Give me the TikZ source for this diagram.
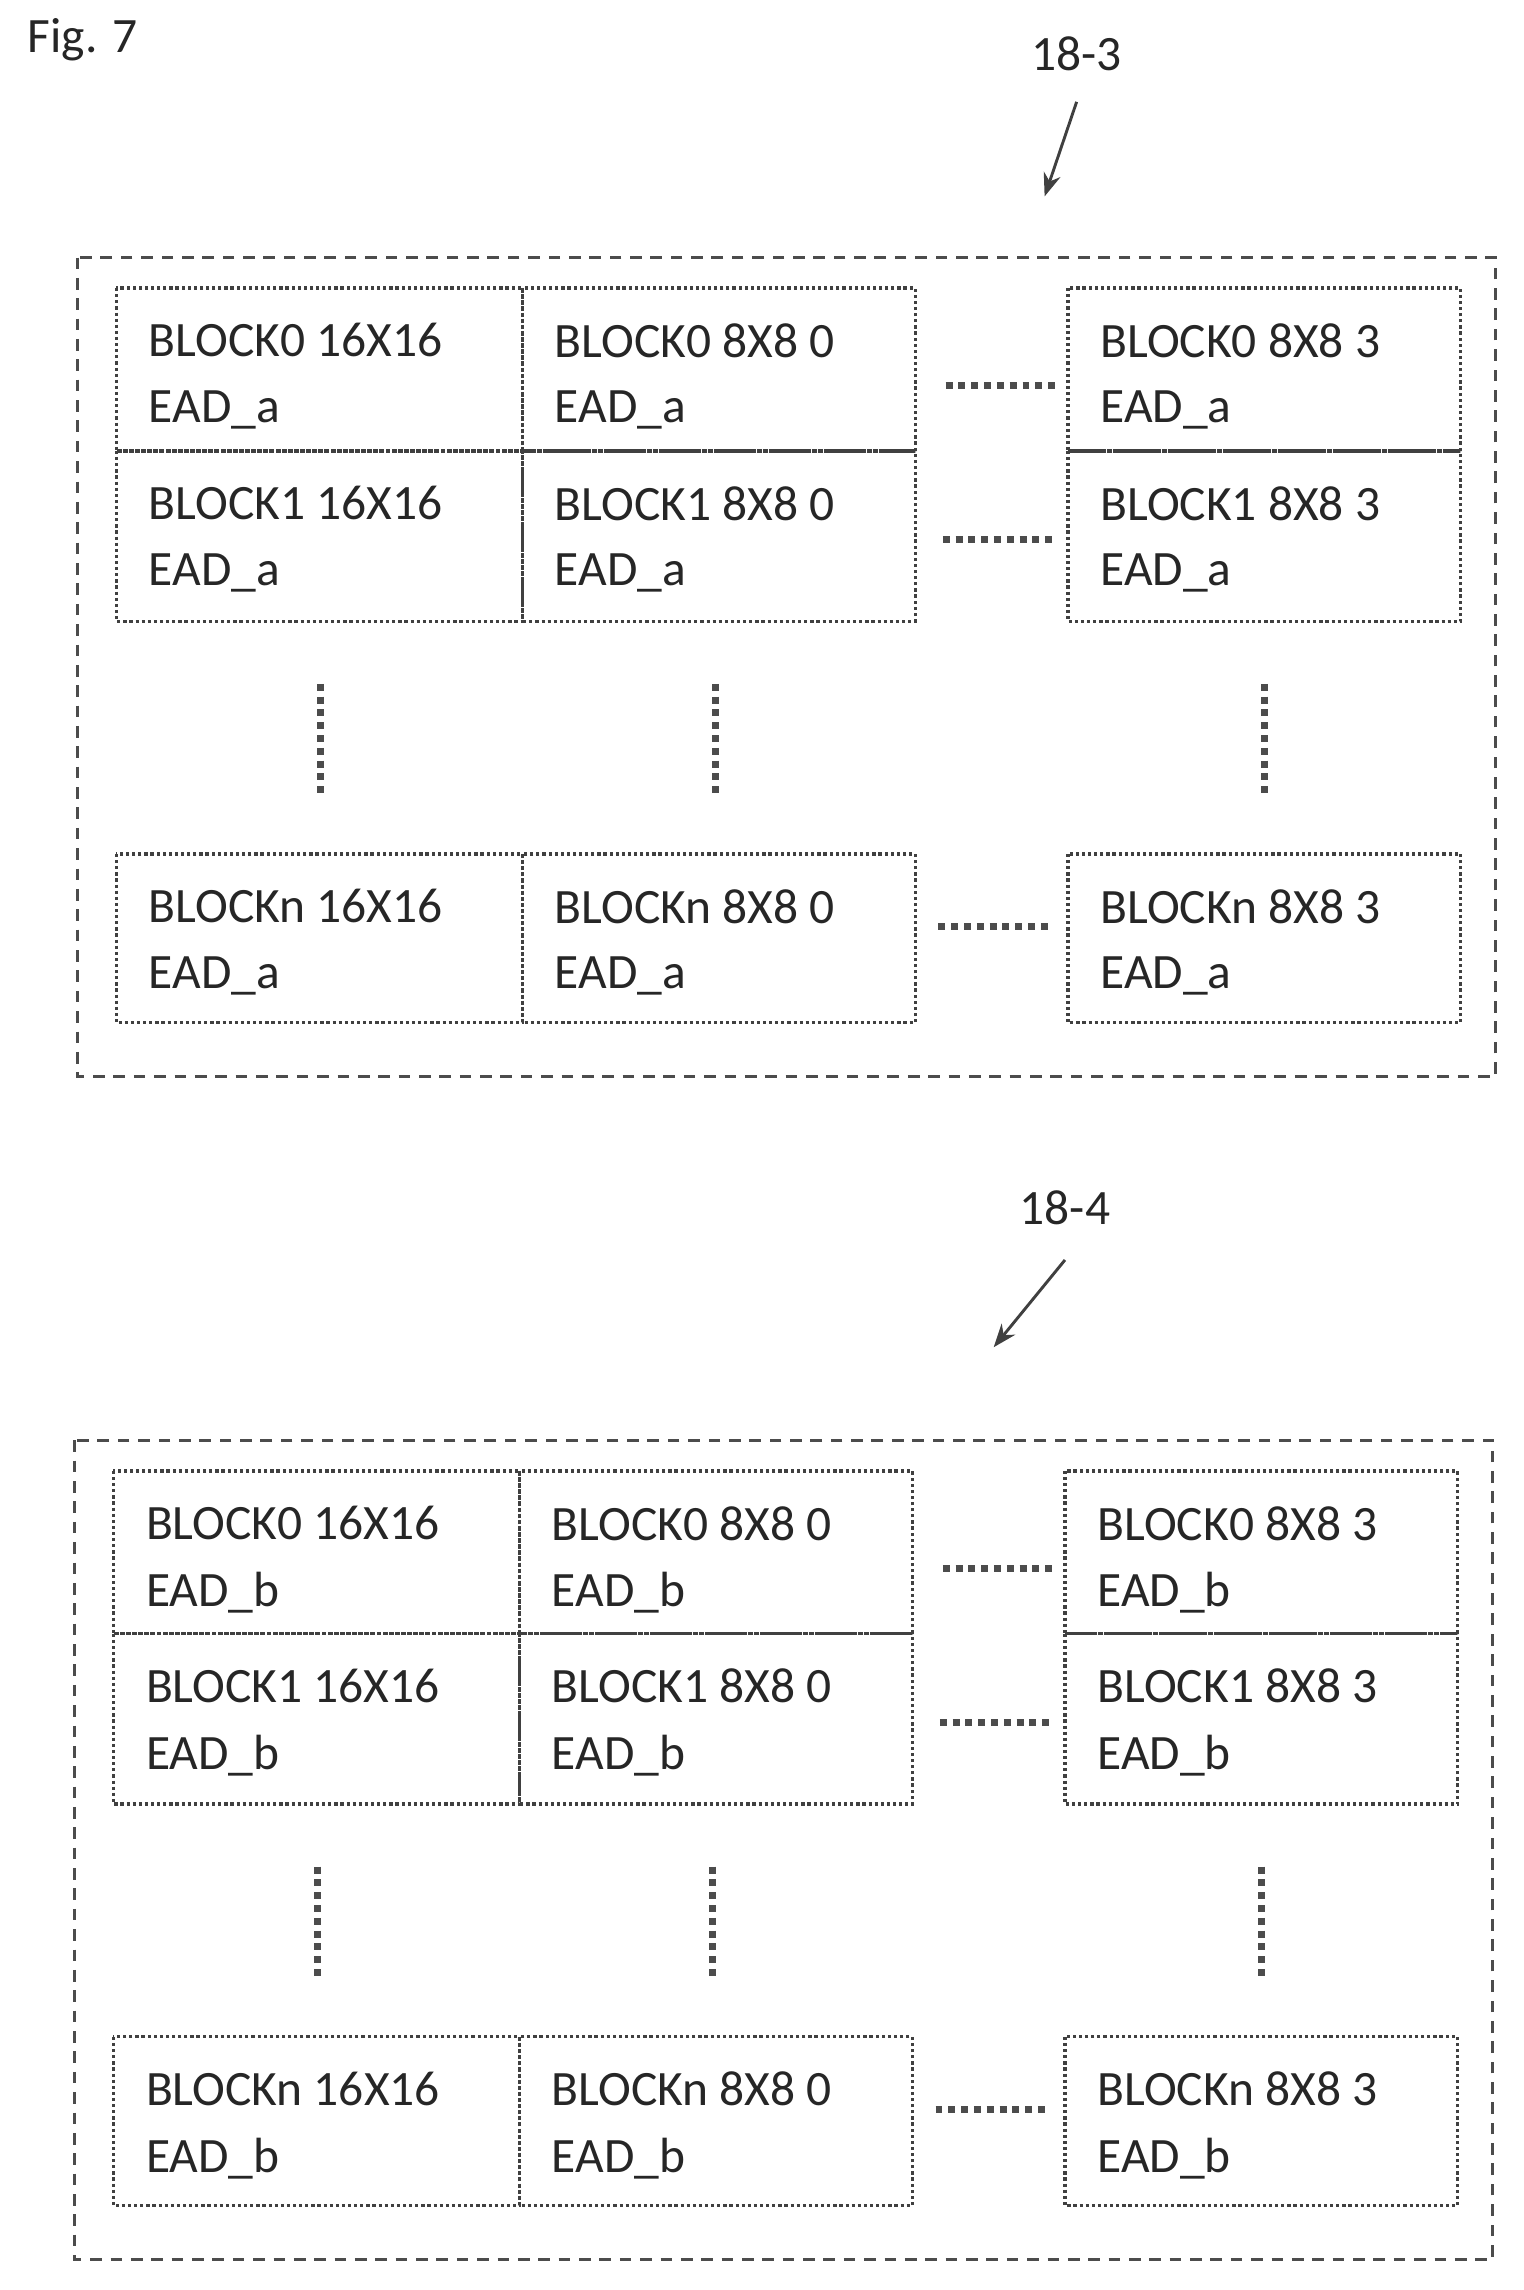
\documentclass[tikz,border=0pt]{standalone}
\usepackage{fontspec}
\setmainfont{Carlito}
\usetikzlibrary{arrows.meta}
\begin{document}
\begin{tikzpicture}[x=0.5pt,y=-0.5pt,
  cell/.style={draw=black!75,line width=1.1pt,densely dotted,minimum width=0pt},
  outer/.style={draw=black!70,line width=1.1pt,dash pattern=on 4pt off 3pt},
  txt/.style={anchor=west,font=\fontsize{17}{20}\selectfont,text=black!85,inner sep=0pt},
  dots/.style={draw=black!70,line width=2.4pt,dash pattern=on 2.4pt off 2pt},
  lbl/.style={font=\fontsize{17}{20}\selectfont,text=black!85},
  arr/.style={draw=black!75,line width=1pt,-{Stealth[length=8pt,width=6pt]}}]
\useasboundingbox (0,0) rectangle (1047,1574);
\node[lbl,anchor=west] (fig) at (12,27) {Fig. 7};
\foreach \o/\s/\L/\nm in {0/0/a/3, 813/-2/b/4}{
  \begin{scope}[yshift=-\o*0.5pt,xshift=\s*0.5pt]
  \draw[outer] (53,177) rectangle (1028,740);
  \foreach \ya/\yb/\bn in {198/310/0,310/427/1,587/703/n}{
    \draw[cell] (80,\ya) rectangle (359,\yb);
    \draw[cell] (359,\ya) rectangle (629,\yb);
    \draw[cell] (734,\ya) rectangle (1004,\yb);
    \node[txt] at (102,{\ya+36}) {BLOCK\bn{} 16X16};
    \node[txt] at (102,{\ya+84}) {EAD\_\L};
    \node[txt] at (381,{\ya+36}) {BLOCK\bn{} 8X8 0};
    \node[txt] at (381,{\ya+84}) {EAD\_\L};
    \node[txt] at (756,{\ya+36}) {BLOCK\bn{} 8X8 3};
    \node[txt] at (756,{\ya+84}) {EAD\_\L};
  }
  \draw[dots] (650,265) -- (725,265);
  \draw[dots] (648,371) -- (725,371);
  \draw[dots] (645,637) -- (722,637);
  \foreach \xx in {220,492,869}{\draw[dots] (\xx,470) -- (\xx,548);}
  \end{scope}
}
\node[lbl] (l3) at (740,37) {18-3};
\coordinate (a3) at (718,135);
\draw[arr] (740,70) -- (a3);
\node[lbl] (l4) at (732,830) {18-4};
\coordinate (a4) at (683,926);
\draw[arr] (732,866) -- (a4);
\end{tikzpicture}
\end{document}
